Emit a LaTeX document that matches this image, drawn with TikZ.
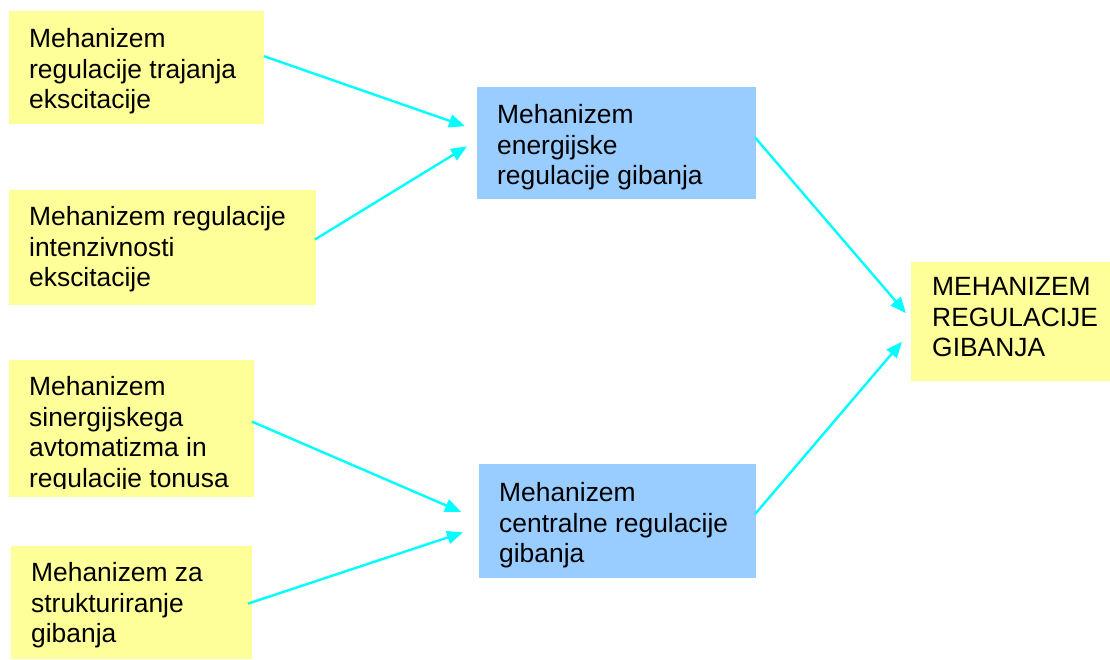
\documentclass[tikz,border=0pt]{standalone}
\usepackage{fontspec}
\setmainfont{Liberation Sans}
\usetikzlibrary{arrows.meta,calc}
\definecolor{paleyellow}{HTML}{FFFF99}
\definecolor{paleblue}{HTML}{99CCFF}
\definecolor{flow}{HTML}{00FFFF}

\begin{document}
\begin{tikzpicture}[x=1pt,y=-1pt,
  box/.style={draw=none, inner sep=0pt, outer sep=0pt, anchor=north west},
  ybox/.style={box, fill=paleyellow},
  bbox/.style={box, fill=paleblue},
  txt/.style={anchor=north west, inner sep=0pt, align=left,
              font=\fontsize{26.4}{30.7}\selectfont},
  flowarrow/.style={draw=flow, line width=2.4pt,
                    -{Triangle[length=16pt,width=13pt]}}
]
\useasboundingbox (0,0) rectangle (1110,659);

% input mechanisms (yellow)
\node[ybox, minimum width=255pt, minimum height=113pt] (A) at (9,11) {};
\node[txt] (At) at (29,28) {Mehanizem\\regulacije trajanja\\ekscitacije};

\node[ybox, minimum width=307pt, minimum height=115pt] (B) at (9,190) {};
\node[txt] (Bt) at (29,206) {Mehanizem regulacije\\intenzivnosti\\ekscitacije};

\node[ybox, minimum width=245pt, minimum height=137pt] (E) at (9,360) {};
\begin{scope}
  \clip (E.north west) rectangle ($(E.south east)+(0,-9)$);
  \node[txt] (Et) at (29,376) {Mehanizem\\sinergijskega\\avtomatizma in\\regulacije tonusa};
\end{scope}

\node[ybox, minimum width=241pt, minimum height=113pt] (F) at (11,546) {};
\node[txt] (Ft) at (31,562) {Mehanizem za\\strukturiranje\\gibanja};

% intermediate mechanisms (blue)
\node[bbox, minimum width=279pt, minimum height=112pt] (C) at (477,87) {};
\node[txt] (Ct) at (497,104) {Mehanizem\\energijske\\regulacije gibanja};

\node[bbox, minimum width=277pt, minimum height=114pt] (G) at (479,464) {};
\node[txt] (Gt) at (499,482) {Mehanizem\\centralne regulacije\\gibanja};

% overall mechanism
\node[ybox, minimum width=199pt, minimum height=119pt] (D) at (911,262) {};
\node[txt] (Dt) at (932,277) {MEHANIZEM\\REGULACIJE\\GIBANJA};

% connectors
\draw[flowarrow] ($(A.north east)!0.40!(A.south east)$) -- ($(C.north west)!0.35!(C.south west)+(-12,0)$);
\draw[flowarrow] ($(B.north east)!0.43!(B.south east)+(-1,0)$) -- ($(C.north west)!0.53!(C.south west)+(-10,0)$);
\draw[flowarrow] ($(E.north east)!0.45!(E.south east)+(-2,0)$) -- ($(G.north west)!0.42!(G.south west)+(-18,0)$);
\draw[flowarrow] ($(F.north east)!0.51!(F.south east)+(-4,0)$) -- ($(G.north west)!0.60!(G.south west)+(-16,0)$);
\draw[flowarrow] ($(C.north east)!0.45!(C.south east)+(-1,0)$) -- ($(D.north west)!0.43!(D.south west)+(-5,0)$);
\draw[flowarrow] ($(G.north east)!0.44!(G.south east)+(-1,0)$) -- ($(D.north west)!0.67!(D.south west)+(-9,0)$);
\end{tikzpicture}
\end{document}
